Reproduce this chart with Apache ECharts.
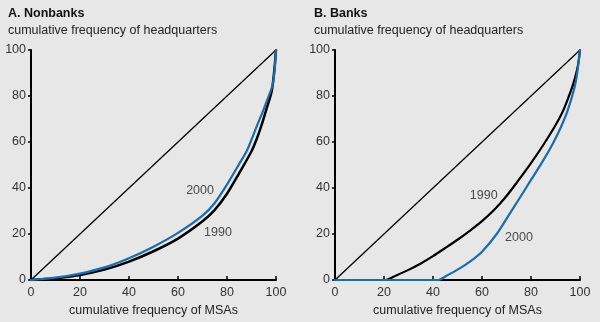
<!DOCTYPE html>
<html>
<head>
<meta charset="utf-8">
<script src="https://cdn.jsdelivr.net/npm/echarts@6/dist/echarts.min.js"></script>
<style>
html,body{margin:0;padding:0;background:#e7e7e7;}
#c{width:600px;height:322px;}
</style>
</head>
<body>
<div id="c"></div>
<script>
var xTicks = [0, 20, 40, 60, 80, 100];
var yTicks = [0, 20, 40, 60, 80, 100];
var equality = [[0, 0], [100, 100]];

var nonbanks1990 = [[0,0],[10,0.8],[20,2.2],[30,4.5],[40,8],[50,12.5],[60,18],[70,25.5],[75,30.5],[80,37.5],[85,46.5],[90,56],[92,61],[94,67],[96,74],[98.2,81.9],[99.2,90],[100,100]];
var nonbanks2000 = [[0,0],[10,1],[20,2.8],[30,5.5],[40,9.5],[50,14.5],[60,20.5],[70,28],[75,33.5],[80,41.5],[85,50.5],[88,56],[90,61],[92,66.5],[94.6,73.2],[96.5,78.5],[98.6,84.8],[99.4,91],[100,100]];
var banks1990 = [[0,0],[20.5,0],[25,2],[30,4.4],[35,7.2],[40,10.4],[45,13.9],[50,17.5],[55,21.4],[60,25.6],[65,30.5],[70,36.5],[75,43.5],[80,50.8],[85,58.7],[90,67.3],[93,73.3],[95.5,80],[97.3,85.5],[99.1,93],[100,100]];
var banks2000 = [[0,0],[42.2,0],[45,1.5],[50,4.5],[55.1,8],[60,12.3],[66,20],[71.4,29],[75,35],[80,43.5],[85,52],[89,59.5],[92,66],[94.8,73.2],[98,84.8],[99.3,93.5],[100,100]];

var labelsA = [{name:'2000', value:[69, 38.7]}, {name:'1990', value:[76.3, 20.7]}];
var labelsB = [{name:'1990', value:[60.7, 36.8]}, {name:'2000', value:[75.1, 18.3]}];

var panelTitles = ['A. Nonbanks', 'B. Banks'];
var yAxisTitle = 'cumulative frequency of headquarters';
var xAxisTitle = 'cumulative frequency of MSAs';

var FONT = 'Liberation Sans, Arial, Helvetica, sans-serif';
var BLUE = '#1b6cab';

function xAxis(gi) {
  return {
    type: 'value', gridIndex: gi, min: 0, max: 100, interval: 20,
    name: xAxisTitle, nameLocation: 'middle', nameGap: 24,
    nameTextStyle: {color: '#222', fontSize: 12.5, fontFamily: FONT},
    axisLine: {show: true, onZero: false, lineStyle: {color: '#000', width: 2}},
    axisTick: {show: true, inside: true, length: 4, lineStyle: {color: '#000', width: 1.5}},
    axisLabel: {color: '#333', fontSize: 12.5, fontFamily: FONT, margin: 6,
      formatter: function(v){ return xTicks.indexOf(v) >= 0 ? String(v) : ''; }},
    splitLine: {show: false}
  };
}
function yAxis(gi) {
  return {
    type: 'value', gridIndex: gi, min: 0, max: 100, interval: 20,
    axisLine: {show: true, onZero: false, lineStyle: {color: '#000', width: 2}},
    axisTick: {show: true, inside: false, length: 3, lineStyle: {color: '#000', width: 1.5}},
    axisLabel: {color: '#333', fontSize: 12.5, fontFamily: FONT, margin: 5,
      formatter: function(v){ return yTicks.indexOf(v) >= 0 ? String(v) : ''; }},
    splitLine: {show: false}
  };
}
function line(gi, data, color, width, smooth) {
  return {
    type: 'line', xAxisIndex: gi, yAxisIndex: gi, data: data,
    showSymbol: false, symbol: 'none', smooth: smooth,
    lineStyle: {color: color, width: width, join: 'round', cap: 'round'},
    silent: true, animation: false
  };
}
function labels(gi, data) {
  return {
    type: 'scatter', xAxisIndex: gi, yAxisIndex: gi, data: data,
    symbolSize: 0, silent: true, animation: false,
    label: {show: true, position: 'inside', formatter: '{b}', color: '#222',
      fontSize: 12.5, fontFamily: FONT}
  };
}

var chart = echarts.init(document.getElementById('c'), null, {renderer: 'canvas'});
chart.setOption({
  backgroundColor: '#e7e7e7',
  animation: false,
  title: [
    {text: panelTitles[0], subtext: yAxisTitle, left: 8, top: 7, itemGap: 4, padding: 0,
     textStyle: {fontSize: 12.5, fontWeight: 'bold', color: '#111', fontFamily: FONT},
     subtextStyle: {fontSize: 12.5, color: '#222', fontFamily: FONT}},
    {text: panelTitles[1], subtext: yAxisTitle, left: 314, top: 7, itemGap: 4, padding: 0,
     textStyle: {fontSize: 12.5, fontWeight: 'bold', color: '#111', fontFamily: FONT},
     subtextStyle: {fontSize: 12.5, color: '#222', fontFamily: FONT}}
  ],
  grid: [
    {left: 31, top: 50, width: 245, height: 230, containLabel: false},
    {left: 335, top: 50, width: 245, height: 230, containLabel: false}
  ],
  xAxis: [xAxis(0), xAxis(1)],
  yAxis: [yAxis(0), yAxis(1)],
  series: [
    line(0, equality, '#000', 1.3, false),
    line(0, nonbanks1990, '#000', 2.5, 0.3),
    line(0, nonbanks2000, BLUE, 2.2, 0.3),
    labels(0, labelsA),
    line(1, equality, '#000', 1.3, false),
    line(1, banks1990, '#000', 2.2, 0.3),
    line(1, banks2000, BLUE, 2.2, 0.3),
    labels(1, labelsB)
  ]
});
</script>
</body>
</html>
